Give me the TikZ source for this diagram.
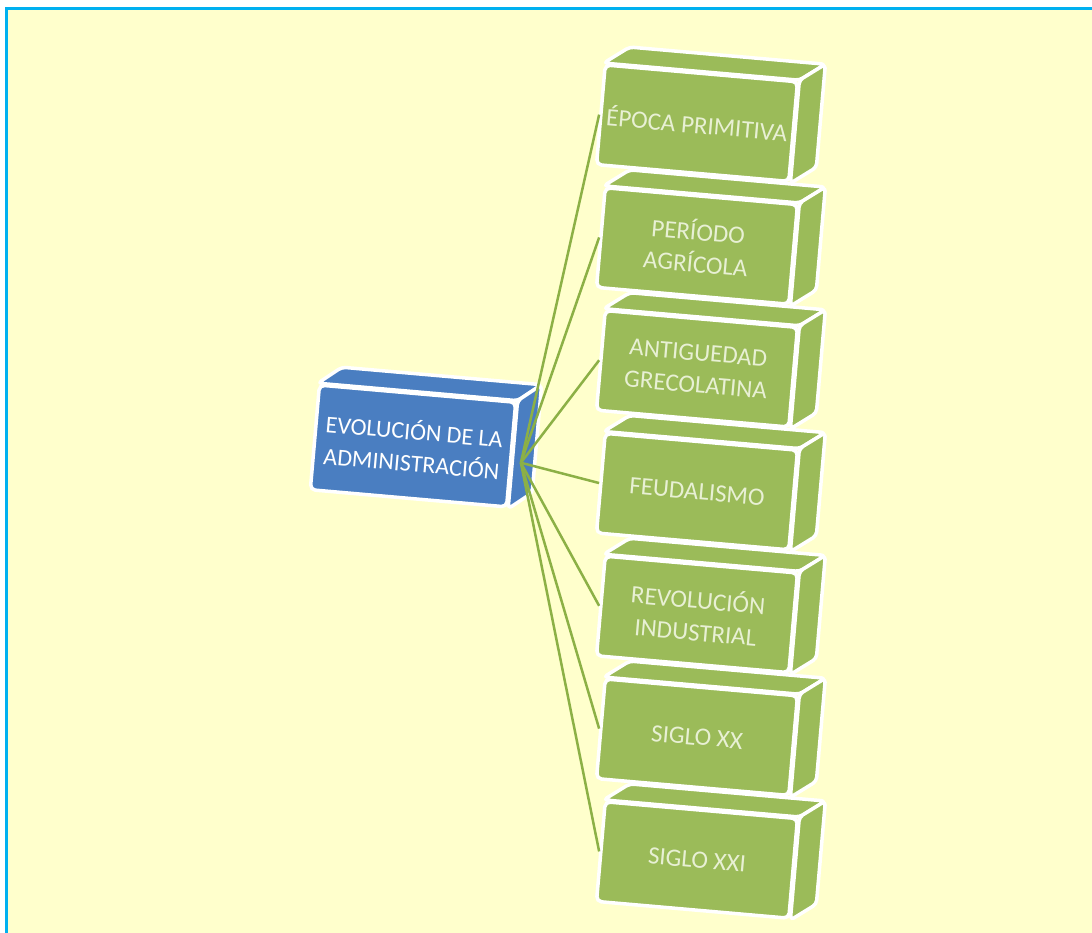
\documentclass[tikz,border=0pt]{standalone}
\usepackage{fontspec}
\setmainfont{Carlito}
\usetikzlibrary{calc}

\definecolor{paper}{RGB}{255,255,204}
\definecolor{frameblue}{RGB}{0,176,240}
\definecolor{boxblue}{RGB}{74,126,193}
\definecolor{boxgreen}{RGB}{155,187,89}
\definecolor{linkgreen}{RGB}{140,176,70}
\definecolor{paletext}{RGB}{232,240,212}

\tikzset{
  front/.style={rectangle, rounded corners=5pt, draw=white, line width=3.5pt,
    minimum width=193pt, minimum height=100pt, rotate=-5, align=center,
    inner sep=2pt, font=\fontsize{25}{32}\selectfont},
  face/.style={draw=white, line width=3.5pt, rounded corners=4pt, line join=round},
  link/.style={draw=linkgreen, line width=2.5pt},
}

\begin{document}
\begin{tikzpicture}[x=1pt,y=1pt]
  \useasboundingbox (0,0) rectangle (1092,932);
  \fill[white] (0,0) rectangle (1092,932);
  \fill[paper] (6.5,-10) rectangle (1100,923.5);
  \draw[frameblue, line width=3pt] (1100,923.5) -- (6.5,923.5) -- (6.5,-10);

  % the blue box
  \node[front, fill=boxblue, text=white, minimum width=197pt, minimum height=105pt,
    font=\fontsize{24}{32}\selectfont]
    (evol) at (413,486) {EVOLUCIÓN DE LA\\ADMINISTRACIÓN};
  \path[face, fill=boxblue] (evol.north west) -- (evol.north east)
    -- ($(evol.north east)+(24,16)$) -- ($(evol.north west)+(24,16)$) -- cycle;
  \path[face, fill=boxblue] (evol.north east) -- ($(evol.north east)+(24,16)$)
    -- ($(evol.south east)+(24,16)$) -- (evol.south east) -- cycle;
  \coordinate (hub) at ($(evol.east)+(8,-8)$);

  % the green stack, drawn from the bottom up
  \foreach \name/\txt [count=\i] in {xxi/{SIGLO XXI}, xx/{SIGLO XX},
      revol/{REVOLUCIÓN\\INDUSTRIAL}, feudal/{FEUDALISMO},
      antig/{ANTIGUEDAD\\GRECOLATINA}, agri/{PERÍODO\\AGRÍCOLA},
      epoca/{ÉPOCA PRIMITIVA}} {
    \node[front, fill=boxgreen, text=paletext] (\name) at (697,{72+122.8*(\i-1)}) {\txt};
    \path[face, fill=boxgreen] (\name.north west) -- (\name.north east)
      -- ($(\name.north east)+(26,16)$) -- ($(\name.north west)+(26,16)$) -- cycle;
    \path[face, fill=boxgreen] (\name.north east) -- ($(\name.north east)+(26,16)$)
      -- ($(\name.south east)+(26,16)$) -- (\name.south east) -- cycle;
  }

  % connectors
  \foreach \name in {epoca, agri, antig, feudal, revol, xx, xxi}
    \draw[link] (hub) -- (\name.west);
\end{tikzpicture}
\end{document}
